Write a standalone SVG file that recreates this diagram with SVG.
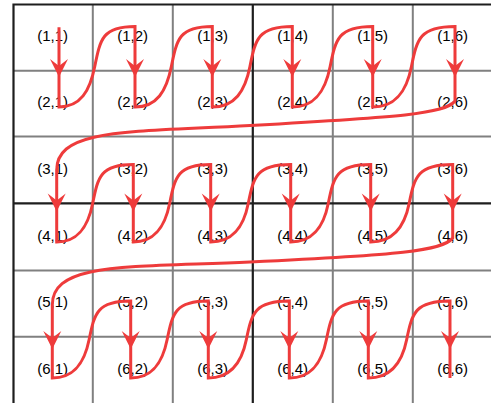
<svg xmlns="http://www.w3.org/2000/svg" xmlns:xlink="http://www.w3.org/1999/xlink" width="491" height="403" viewBox="0 0 491 403">
<style>
.g{stroke:#808080;stroke-width:2;fill:none}
.d{stroke:#1e1e1e;stroke-width:2.2;fill:none}
.t{font-family:"Liberation Sans",Arial,sans-serif;font-size:15px;fill:#000;text-anchor:middle}
.w{stroke:#EE3B3B;stroke-width:3;fill:none;stroke-linejoin:miter}
.a{fill:#EE3B3B}
</style>
<defs>
<path id="ah" d="M0,0 L-9,-18 L0,-11 L9,-18 Z"/>
</defs>
<rect width="491" height="403" fill="#fff"/>
<g id="grid">
<path class="g" d="M92.8,4.5V403M172.8,4.5V403M332.8,4.5V403M412.8,4.5V403M13.5,70.7H491M13.5,136.5H491M13.5,270.5H491M13.5,336.7H491"/>
<path class="d" d="M252.8,4.5V403M13.5,203.3H491"/>
<path class="d" d="M13.5,403V4.5H491" stroke-width="2.5"/>
</g>
<g id="n11"><text class="t" x="52.7" y="40.5">(1,1)</text></g>
<g id="n12"><text class="t" x="132.7" y="40.5">(1,2)</text></g>
<g id="n13"><text class="t" x="212.7" y="40.5">(1,3)</text></g>
<g id="n14"><text class="t" x="292.7" y="40.5">(1,4)</text></g>
<g id="n15"><text class="t" x="372.7" y="40.5">(1,5)</text></g>
<g id="n16"><text class="t" x="452.7" y="40.5">(1,6)</text></g>
<g id="n21"><text class="t" x="52.7" y="107.2">(2,1)</text></g>
<g id="n22"><text class="t" x="132.7" y="107.2">(2,2)</text></g>
<g id="n23"><text class="t" x="212.7" y="107.2">(2,3)</text></g>
<g id="n24"><text class="t" x="292.7" y="107.2">(2,4)</text></g>
<g id="n25"><text class="t" x="372.7" y="107.2">(2,5)</text></g>
<g id="n26"><text class="t" x="452.7" y="107.2">(2,6)</text></g>
<g id="n31"><text class="t" x="52.7" y="173.8">(3,1)</text></g>
<g id="n32"><text class="t" x="132.7" y="173.8">(3,2)</text></g>
<g id="n33"><text class="t" x="212.7" y="173.8">(3,3)</text></g>
<g id="n34"><text class="t" x="292.7" y="173.8">(3,4)</text></g>
<g id="n35"><text class="t" x="372.7" y="173.8">(3,5)</text></g>
<g id="n36"><text class="t" x="452.7" y="173.8">(3,6)</text></g>
<g id="n41"><text class="t" x="52.7" y="240.5">(4,1)</text></g>
<g id="n42"><text class="t" x="132.7" y="240.5">(4,2)</text></g>
<g id="n43"><text class="t" x="212.7" y="240.5">(4,3)</text></g>
<g id="n44"><text class="t" x="292.7" y="240.5">(4,4)</text></g>
<g id="n45"><text class="t" x="372.7" y="240.5">(4,5)</text></g>
<g id="n46"><text class="t" x="452.7" y="240.5">(4,6)</text></g>
<g id="n51"><text class="t" x="52.7" y="307.2">(5,1)</text></g>
<g id="n52"><text class="t" x="132.7" y="307.2">(5,2)</text></g>
<g id="n53"><text class="t" x="212.7" y="307.2">(5,3)</text></g>
<g id="n54"><text class="t" x="292.7" y="307.2">(5,4)</text></g>
<g id="n55"><text class="t" x="372.7" y="307.2">(5,5)</text></g>
<g id="n56"><text class="t" x="452.7" y="307.2">(5,6)</text></g>
<g id="n61"><text class="t" x="52.7" y="373.8">(6,1)</text></g>
<g id="n62"><text class="t" x="132.7" y="373.8">(6,2)</text></g>
<g id="n63"><text class="t" x="212.7" y="373.8">(6,3)</text></g>
<g id="n64"><text class="t" x="292.7" y="373.8">(6,4)</text></g>
<g id="n65"><text class="t" x="372.7" y="373.8">(6,5)</text></g>
<g id="n66"><text class="t" x="452.7" y="373.8">(6,6)</text></g>
<g id="connectors">
<path class="w" d="M59,27.3V107
c21.4,0 30.9,-16.1 35.7,-40.25 c5.6,-28.2 8.1,-40.25 40.3,-40.25 V107
c21.8,0 31.5,-16.1 36.3,-40.25 c5.6,-28.2 8.2,-40.25 41,-40.25 V107
c22.6,0 32.8,-16.1 37.6,-40.25 c5.6,-28.2 8.5,-40.25 42.4,-40.25 V107
c22.7,0 33,-16.1 37.8,-40.25 c5.6,-28.2 8.5,-40.25 42.6,-40.25 V107
c23.2,0 33.9,-16.1 38.7,-40.25 c5.6,-28.2 8.7,-40.25 43.6,-40.25 V101
C445,114 400,117 250,125.5 C130,132.3 56.7,128 56.7,170 V242
c21.6,0 31.4,-15.5 36,-38.75 c5.4,-27.1 8.1,-38.75 40.6,-38.75 V242
c21.8,0 31.7,-15.5 36.4,-38.75 c5.4,-27.1 8.2,-38.75 41,-38.75 V242
c22.6,0 33,-15.5 37.6,-38.75 c5.4,-27.1 8.5,-38.75 42.4,-38.75 V242
c22.6,0 33,-15.5 37.6,-38.75 c5.4,-27.1 8.5,-38.75 42.4,-38.75 V242
c23.1,0 33.9,-15.5 38.5,-38.75 c5.4,-27.1 8.7,-38.75 43.5,-38.75 V238
C442.7,251 397.7,255 250,262 C128,267.5 52.3,262 52.3,305 V378
c22.1,0 32.2,-15.4 36.85,-38.5 c5.4,-26.95 8.3,-38.5 41.55,-38.5 V378
c21.9,0 31.85,-15.4 36.47,-38.5 c5.4,-26.95 8.2,-38.5 41.13,-38.5 V378
c22.8,0 33.45,-15.4 38.07,-38.5 c5.4,-26.95 8.6,-38.5 42.93,-38.5 V378
c22.3,0 32.5,-15.4 37.13,-38.5 c5.4,-26.95 8.4,-38.5 41.87,-38.5 V378
c23,0 33.8,-15.4 38.4,-38.5 c5.4,-26.95 8.7,-38.5 43.3,-38.5 V378"/>
<use href="#ah" class="a" x="59" y="77"/>
<use href="#ah" class="a" x="135" y="77"/>
<use href="#ah" class="a" x="212.3" y="77"/>
<use href="#ah" class="a" x="292.3" y="77"/>
<use href="#ah" class="a" x="372.7" y="77"/>
<use href="#ah" class="a" x="455" y="77"/>
<use href="#ah" class="a" x="56.7" y="211.5"/>
<use href="#ah" class="a" x="133.3" y="211.5"/>
<use href="#ah" class="a" x="210.7" y="211.5"/>
<use href="#ah" class="a" x="290.7" y="211.5"/>
<use href="#ah" class="a" x="370.7" y="211.5"/>
<use href="#ah" class="a" x="452.7" y="211.5"/>
<use href="#ah" class="a" x="52.3" y="349"/>
<use href="#ah" class="a" x="130.7" y="349"/>
<use href="#ah" class="a" x="208.3" y="349"/>
<use href="#ah" class="a" x="289.3" y="349"/>
<use href="#ah" class="a" x="368.3" y="349"/>
<use href="#ah" class="a" x="450" y="349"/>
</g>
</svg>
